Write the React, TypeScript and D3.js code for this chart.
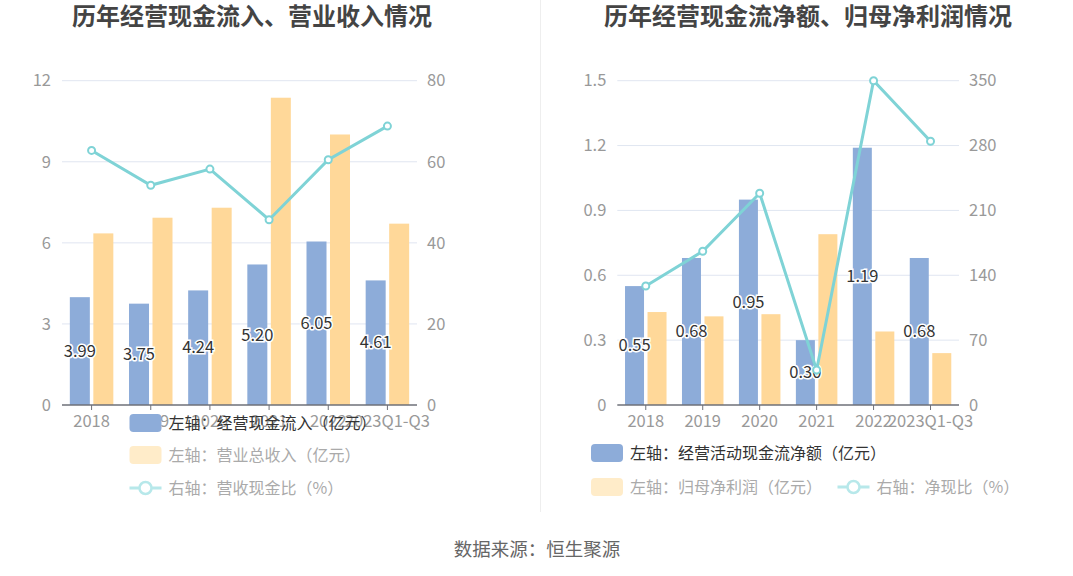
import React from "react";
import * as d3 from "d3";

const categories = ["2018", "2019", "2020", "2021", "2022", "2023Q1-Q3"];

// Left chart
const cashInflow = [3.99, 3.75, 4.24, 5.2, 6.05, 4.61];
const revenue = [6.35, 6.93, 7.3, 11.37, 10.01, 6.71];
const cashRevenueRatio = [62.8, 54.2, 58.2, 45.7, 60.5, 68.8];
const leftTicksL = [0, 3, 6, 9, 12];
const leftTicksR = [0, 20, 40, 60, 80];

// Right chart
const netCashFlow = [0.55, 0.68, 0.95, 0.3, 1.19, 0.68];
const netProfit = [0.43, 0.41, 0.42, 0.79, 0.34, 0.24];
const netCashRatio = [128.4, 165.9, 228.5, 37.8, 350, 284.6];
const rightTicksL = [0, 0.3, 0.6, 0.9, 1.2, 1.5];
const rightTicksR = [0, 70, 140, 210, 280, 350];

const BLUE = "#8dacd9";
const ORANGE = "#ffd899";
const TEAL = "#7fd3d6";
const FONT = "'Noto Sans CJK SC', 'Noto Sans', sans-serif";

type PanelProps = {
  x0: number;
  x1: number;
  barsA: number[];
  barsB: number[];
  line: number[];
  ticksL: number[];
  ticksR: number[];
  fmtL: (v: number) => string;
  barW: number;
};

function Panel({ x0, x1, barsA, barsB, line, ticksL, ticksR, fmtL, barW }: PanelProps) {
  const y0 = 80.7;
  const y1 = 405;
  const x = d3.scaleBand<string>().domain(categories).range([x0, x1]);
  const yL = d3.scaleLinear().domain([0, ticksL[ticksL.length - 1]]).range([y1, y0]);
  const yR = d3.scaleLinear().domain([0, ticksR[ticksR.length - 1]]).range([y1, y0]);
  const cx = (c: string) => (x(c) as number) + x.bandwidth() / 2;
  const gap = 3.5;
  const lineGen = d3
    .line<number>()
    .x((_, i) => cx(categories[i]))
    .y((d) => yR(d));
  return (
    <g fontFamily={FONT}>
      {ticksL.map((t, i) => (
        <g key={i}>
          {i > 0 && <line x1={x0} x2={x1} y1={yL(t)} y2={yL(t)} stroke="#e0e6f1" strokeWidth={1} />}
          <text x={x0 - 11} y={yL(t)} dy="0.35em" textAnchor="end" fontSize={16.5} fill="#999">
            {fmtL(t)}
          </text>
        </g>
      ))}
      {ticksR.map((t, i) => (
        <text key={i} x={x1 + 10} y={yR(t)} dy="0.35em" textAnchor="start" fontSize={16.5} fill="#999">
          {t}
        </text>
      ))}
      {categories.map((c, i) => (
        <g key={c}>
          <rect x={cx(c) - gap / 2 - barW} y={yL(barsA[i])} width={barW} height={y1 - yL(barsA[i])} fill={BLUE} />
          <rect x={cx(c) + gap / 2} y={yL(barsB[i])} width={barW} height={y1 - yL(barsB[i])} fill={ORANGE} />
        </g>
      ))}
      <line x1={x0} x2={x1} y1={y1} y2={y1} stroke="#6e7079" strokeWidth={1.5} />
      {categories.map((c) => (
        <g key={c}>
          <line x1={cx(c)} x2={cx(c)} y1={y1} y2={y1 + 5} stroke="#6e7079" />
          <text x={cx(c)} y={y1 + 16} dy="0.35em" textAnchor="middle" fontSize={16.5} fill="#999">
            {c}
          </text>
        </g>
      ))}
      {categories.map((c, i) => (
        <text
          key={c}
          x={cx(c) - gap / 2 - barW / 2}
          y={(yL(barsA[i]) + y1) / 2}
          dy="0.35em"
          textAnchor="middle"
          fontSize={16.5}
          fill="#333"
          stroke="#fff"
          strokeWidth={3}
          paintOrder="stroke"
        >
          {barsA[i].toFixed(2)}
        </text>
      ))}
      <path d={lineGen(line) || ""} fill="none" stroke={TEAL} strokeWidth={3} />
      {line.map((v, i) => (
        <circle key={i} cx={cx(categories[i])} cy={yR(v)} r={3.5} fill="#fff" stroke={TEAL} strokeWidth={2} />
      ))}
    </g>
  );
}

function LegendRect({ x, y, color, label, textColor }: { x: number; y: number; color: string; label: string; textColor: string }) {
  return (
    <g fontFamily={FONT}>
      <rect x={x} y={y - 9} width={32} height={18} rx={4} fill={color} />
      <text x={x + 39} y={y} dy="0.35em" fontSize={16} fill={textColor}>
        {label}
      </text>
    </g>
  );
}

function LegendLine({ x, y, label, textColor }: { x: number; y: number; label: string; textColor: string }) {
  return (
    <g fontFamily={FONT}>
      <line x1={x} x2={x + 32} y1={y} y2={y} stroke="#b7e8ea" strokeWidth={3} />
      <circle cx={x + 16} cy={y} r={6} fill="#fff" stroke="#b7e8ea" strokeWidth={2.5} />
      <text x={x + 39} y={y} dy="0.35em" fontSize={16} fill={textColor}>
        {label}
      </text>
    </g>
  );
}

export default function App() {
  return (
    <svg width={1073} height={576} style={{ position: "absolute", left: 0, top: 0, background: "#fff" }}>
      <rect x={0} y={0} width={1073} height={576} fill="#fff" />
      <text x={252} y={17} dy="0.35em" textAnchor="middle" fontFamily={FONT} fontWeight="bold" fontSize={24} fill="#444">
        历年经营现金流入、营业收入情况
      </text>
      <text x={808} y={17} dy="0.35em" textAnchor="middle" fontFamily={FONT} fontWeight="bold" fontSize={24} fill="#444">
        历年经营现金流净额、归母净利润情况
      </text>
      <line x1={540.5} x2={540.5} y1={0} y2={512} stroke="#eee" strokeWidth={1} />

      <Panel
        x0={62}
        x1={417}
        barsA={cashInflow}
        barsB={revenue}
        line={cashRevenueRatio}
        ticksL={leftTicksL}
        ticksR={leftTicksR}
        fmtL={(v) => String(v)}
        barW={20}
      />
      <Panel
        x0={617.3}
        x1={959}
        barsA={netCashFlow}
        barsB={netProfit}
        line={netCashRatio}
        ticksL={rightTicksL}
        ticksR={rightTicksR}
        fmtL={(v) => (v === 0 ? "0" : v.toFixed(1))}
        barW={19}
      />

      <LegendRect x={129.5} y={423} color={BLUE} label="左轴：经营现金流入（亿元）" textColor="#333" />
      <LegendRect x={129.5} y={455} color="#ffecc9" label="左轴：营业总收入（亿元）" textColor="#aaa" />
      <LegendLine x={129.5} y={488} label="右轴：营收现金比（%）" textColor="#aaa" />

      <LegendRect x={591} y={453} color={BLUE} label="左轴：经营活动现金流净额（亿元）" textColor="#333" />
      <LegendRect x={591} y={487} color="#ffecc9" label="左轴：归母净利润（亿元）" textColor="#aaa" />
      <LegendLine x={837.5} y={487} label="右轴：净现比（%）" textColor="#aaa" />

      <text x={537} y={550} dy="0.35em" textAnchor="middle" fontFamily={FONT} fontSize={18.5} fill="#666">
        数据来源：恒生聚源
      </text>
    </svg>
  );
}
